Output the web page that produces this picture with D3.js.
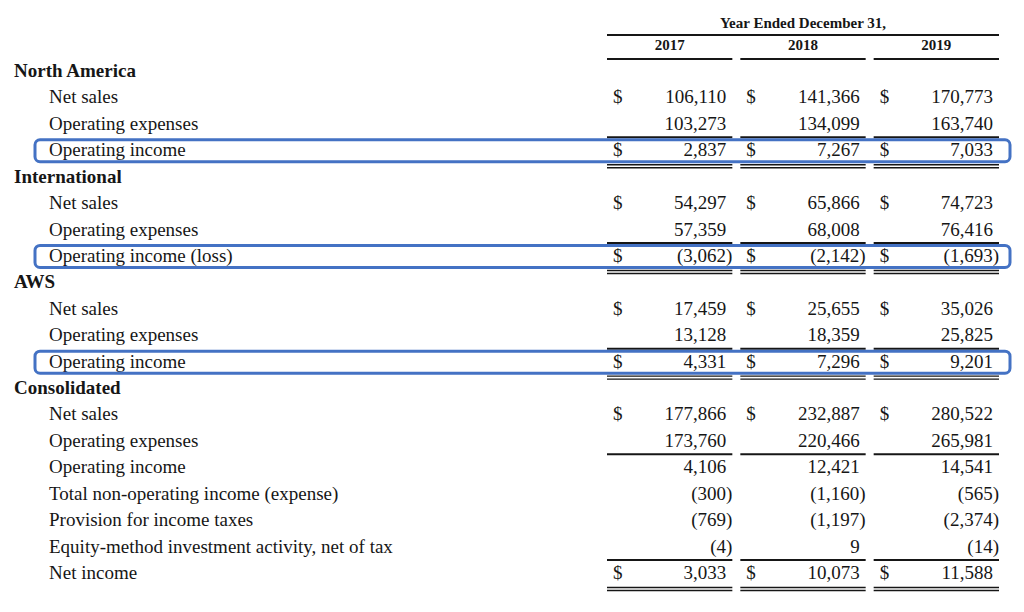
<!DOCTYPE html>
<html>
<head>
<meta charset="utf-8">
<script src="https://cdn.jsdelivr.net/npm/d3@7"></script>
<style>
  body { margin: 0; background: #fff; }
  svg { display: block; font-family: "Liberation Serif", "Times New Roman", serif; }
</style>
</head>
<body>
<div id="chart"></div>
<script>
// table data
const years = ["2017", "2018", "2019"];

const rowLabels = [
  "North America", "Net sales", "Operating expenses", "Operating income",
  "International", "Net sales", "Operating expenses", "Operating income (loss)",
  "AWS", "Net sales", "Operating expenses", "Operating income",
  "Consolidated", "Net sales", "Operating expenses", "Operating income",
  "Total non-operating income (expense)", "Provision for income taxes",
  "Equity-method investment activity, net of tax", "Net income"
];

// rows that are section headings
const sectionRows = [0, 4, 8, 12];

const values2017 = [null, 106110, 103273, 2837, null, 54297, 57359, -3062, null, 17459, 13128, 4331,
  null, 177866, 173760, 4106, -300, -769, -4, 3033];
const values2018 = [null, 141366, 134099, 7267, null, 65866, 68008, -2142, null, 25655, 18359, 7296,
  null, 232887, 220466, 12421, -1160, -1197, 9, 10073];
const values2019 = [null, 170773, 163740, 7033, null, 74723, 76416, -1693, null, 35026, 25825, 9201,
  null, 280522, 265981, 14541, -565, -2374, -14, 11588];

// rows that carry a "$" sign
const dollarRows = [1, 3, 5, 7, 9, 11, 13, 19];
// subtotal rows: rule above; double rule below
const ruleAboveRows = [3, 7, 11, 15, 19];
const doubleBelowRows = [3, 7, 11, 19];
// rows framed by the blue highlight
const highlightRows = [3, 7, 11];

const width = 1024;
const height = 612;

const svg = d3.select("#chart")
  .append("svg")
  .attr("width", width)
  .attr("height", height)
  .attr("viewBox", [0, 0, width, height]);

const y = d3.scaleLinear()
  .domain([0, rowLabels.length - 1])
  .range([77, 579]);

const x = d3.scaleBand()
  .domain(years)
  .range([607, 999])
  .paddingInner(0.06);

const columns = [values2017, values2018, values2019];
const fmt = d3.format(",");
const fmtVal = v => v < 0 ? `(${fmt(-v)})` : fmt(v);
const ink = "#161616";

// header
svg.append("text")
  .attr("x", (x.range()[0] + x.range()[1]) / 2)
  .attr("y", 28)
  .attr("text-anchor", "middle")
  .attr("font-weight", "bold")
  .attr("font-size", 15)
  .attr("fill", ink)
  .text("Year Ended December 31,");

svg.append("line")
  .attr("x1", x(years[0])).attr("x2", x(years[2]) + x.bandwidth())
  .attr("y1", 35).attr("y2", 35)
  .attr("stroke", ink).attr("stroke-width", 2.2);

const head = svg.append("g")
  .selectAll("g")
  .data(years)
  .join("g");

head.append("text")
  .attr("x", d => x(d) + x.bandwidth() / 2)
  .attr("y", 50)
  .attr("text-anchor", "middle")
  .attr("font-weight", "bold")
  .attr("font-size", 15)
  .attr("fill", ink)
  .text(d => d);

head.append("line")
  .attr("x1", d => x(d)).attr("x2", d => x(d) + x.bandwidth())
  .attr("y1", 59).attr("y2", 59)
  .attr("stroke", ink).attr("stroke-width", 2.2);

// row labels
svg.append("g")
  .attr("font-size", 19)
  .attr("fill", ink)
  .selectAll("text")
  .data(rowLabels)
  .join("text")
    .attr("x", (d, i) => sectionRows.includes(i) ? 14 : 49)
    .attr("y", (d, i) => y(i))
    .attr("font-weight", (d, i) => sectionRows.includes(i) ? "bold" : "normal")
    .text(d => d);

// values, dollar signs and rules per year column
years.forEach((yr, c) => {
  const vals = columns[c];
  const x0 = x(yr);
  const x1 = x0 + x.bandwidth();
  const g = svg.append("g").attr("font-size", 19).attr("fill", ink);

  g.selectAll("text.val")
    .data(vals.map((v, i) => ({ v, i })).filter(d => d.v !== null))
    .join("text")
      .attr("class", "val")
      .attr("x", d => d.v < 0 ? x1 : x1 - 6)
      .attr("y", d => y(d.i))
      .attr("text-anchor", "end")
      .text(d => fmtVal(d.v));

  g.selectAll("text.dollar")
    .data(dollarRows)
    .join("text")
      .attr("class", "dollar")
      .attr("x", x0 + 6)
      .attr("y", d => y(d))
      .text("$");

  g.selectAll("line.above")
    .data(ruleAboveRows)
    .join("line")
      .attr("class", "above")
      .attr("x1", x0).attr("x2", x1)
      .attr("y1", d => y(d) - 19).attr("y2", d => y(d) - 19)
      .attr("stroke", ink).attr("stroke-width", 2);

  [8.5, 11.5].forEach(off => {
    g.selectAll(null)
      .data(doubleBelowRows)
      .join("line")
        .attr("x1", x0).attr("x2", x1)
        .attr("y1", d => y(d) + off).attr("y2", d => y(d) + off)
        .attr("stroke", ink).attr("stroke-width", 1.4);
  });
});

// blue highlight frames
svg.append("g")
  .selectAll("rect")
  .data(highlightRows)
  .join("rect")
    .attr("x", 35)
    .attr("y", d => y(d) - 16.5)
    .attr("width", 975)
    .attr("height", 22)
    .attr("rx", 5)
    .attr("fill", "none")
    .attr("stroke", "#4472C4")
    .attr("stroke-width", 3);
</script>
</body>
</html>
